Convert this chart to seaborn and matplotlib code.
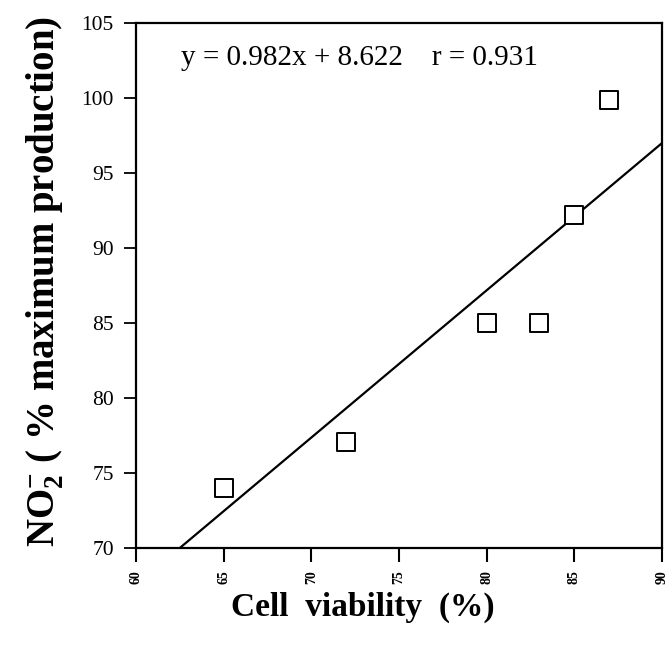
import matplotlib
matplotlib.use("Agg")
import matplotlib.pyplot as plt
import seaborn as sns
import pandas as pd

# Data
viability = [65, 72, 80, 83, 85, 87]
no2 = [74.0, 77.1, 85.0, 85.0, 92.2, 99.9]
fit_x = [62.5, 90.0]
fit_y = [70.0, 97.0]
x_ticks = [60, 65, 70, 75, 80, 85, 90]
y_ticks = [70, 75, 80, 85, 90, 95, 100, 105]
equation = "y = 0.982x + 8.622    r = 0.931"

sns.set_theme(style="ticks")
plt.rcParams['font.family'] = ['Liberation Serif', 'DejaVu Serif']
plt.rcParams['mathtext.fontset'] = 'custom'
plt.rcParams['mathtext.rm'] = 'Liberation Serif'
plt.rcParams['mathtext.bf'] = 'Liberation Serif:bold'
for k in ['text.color', 'axes.labelcolor', 'xtick.color', 'ytick.color', 'axes.edgecolor']:
    plt.rcParams[k] = 'black'

fig = plt.figure(figsize=(6.70, 6.61), dpi=100)
ax = fig.add_axes([0.203, 0.171, 0.785, 0.794])

df = pd.DataFrame({"x": viability, "y": no2})
fit = pd.DataFrame({"x": fit_x, "y": fit_y})

sns.lineplot(data=fit, x="x", y="y", ax=ax, color="black", linewidth=1.6)
sns.scatterplot(data=df, x="x", y="y", ax=ax, marker="s", s=150,
                facecolor="white", edgecolor="black", linewidth=1.4, zorder=3)

ax.set_xlim(60, 90)
ax.set_ylim(70, 105)
ax.set_xticks(x_ticks)
ax.set_yticks(y_ticks)
ax.set_xticklabels([str(t) for t in x_ticks], rotation=90, fontsize=10, fontweight="bold")
ax.set_yticklabels([str(t) for t in y_ticks], fontsize=15.5)
ax.tick_params(axis="x", direction="out", length=10, width=1.5, color="black", pad=6)
ax.tick_params(axis="y", direction="out", length=9, width=1.3, color="black", pad=7)
for sp in ax.spines.values():
    sp.set_linewidth(1.6)
    sp.set_color("black")
    sp.set_visible(True)

ax.set_xlabel("Cell  viability  (%)", fontsize=24, fontweight="bold")
ax.xaxis.set_label_coords(0.432, -0.114)
ax.xaxis.label.set_va("center")
ax.set_ylabel(r"$\mathbf{NO_2^{-}}$ ( % maximum production)", fontsize=28,
              fontweight="bold")
ax.yaxis.set_label_coords(-0.173, 0.507)
ax.yaxis.label.set_va("center")

ax.text(0.086, 0.933, equation, transform=ax.transAxes, fontsize=21,
        ha="left", va="center")

fig.savefig("out.png", dpi=100, facecolor="white")
